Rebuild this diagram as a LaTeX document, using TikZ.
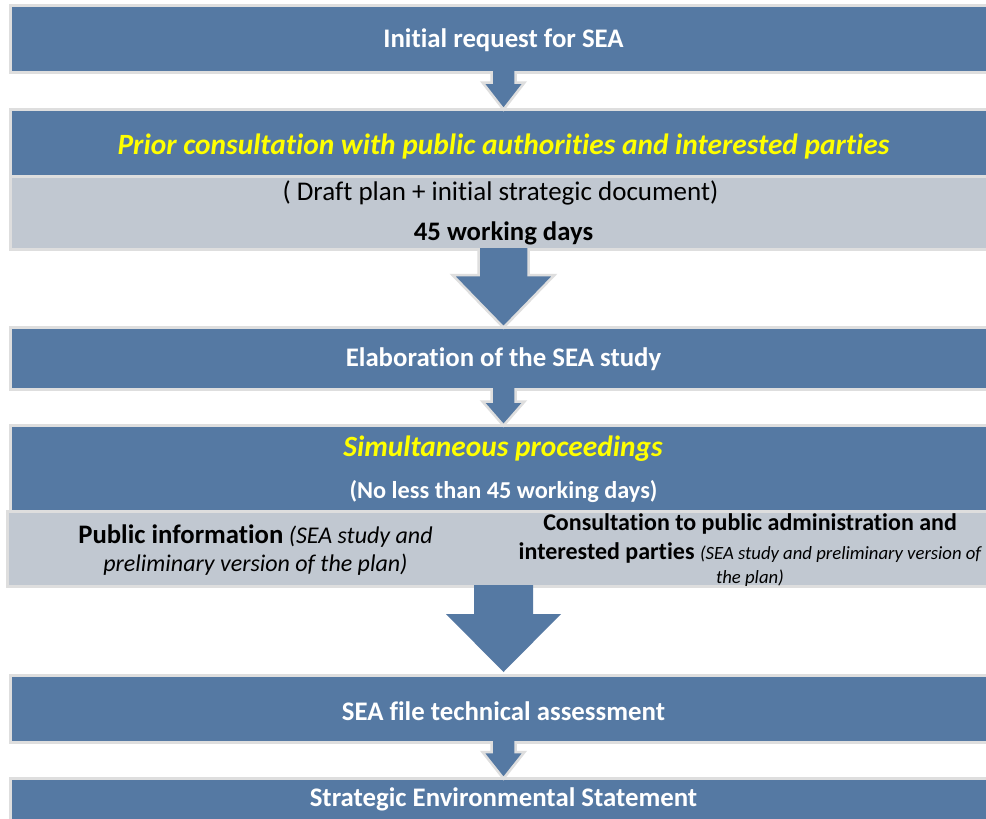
\documentclass[tikz,border=0pt]{standalone}
\usepackage{fontspec}
\setmainfont{Carlito}[Ligatures={NoCommon}]
\usetikzlibrary{calc}
\definecolor{boxblue}{HTML}{5579A3}
\definecolor{boxgray}{HTML}{C1C8D1}
\definecolor{outl}{HTML}{DEDEDE}
\definecolor{ttlyellow}{HTML}{FFFF00}
\tikzset{
  bluebox/.style={draw=outl, line width=3pt, fill=boxblue, rectangle, inner sep=0pt, outer sep=0pt, anchor=north west, minimum width=986pt},
  graybox/.style={draw=outl, line width=3pt, fill=boxgray, rectangle, inner sep=0pt, outer sep=0pt, anchor=north west, minimum width=986pt},
  whitetxt/.style={text=white, font=\fontsize{26.8}{30}\selectfont\bfseries, inner sep=0pt},
  yellowtxt/.style={text=ttlyellow, font=\fontsize{29.4}{33}\selectfont\bfseries\itshape, inner sep=0pt},
  blacktxt/.style={text=black, inner sep=0pt, align=center},
}
% #1 from node, #2 to node, #3 shaft half width, #4 head half width, #5 head length, #6 tip gap
\newcommand\blockarrow[6]{%
  \fill[boxblue] let \p1=(#1.south), \p2=(#2.north) in
    (\x2-#3pt,\y1+1.5pt) -- (\x2+#3pt,\y1+1.5pt) -- (\x2+#3pt,\y2+#5pt+#6pt) -- (\x2+#4pt,\y2+#5pt+#6pt)
    -- (\x2,\y2+#6pt) -- (\x2-#4pt,\y2+#5pt+#6pt) -- (\x2-#3pt,\y2+#5pt+#6pt) -- cycle;
}
\newcommand\blockarrowoutl[6]{%
  \blockarrow{#1}{#2}{#3}{#4}{#5}{#6}%
  \draw[outl, line width=2.5pt] let \p1=(#1.south), \p2=(#2.north) in
    (\x2-#3pt,\y1+1.5pt) -- (\x2-#3pt,\y2+#5pt+#6pt) -- (\x2-#4pt,\y2+#5pt+#6pt)
    -- (\x2,\y2+#6pt) -- (\x2+#4pt,\y2+#5pt+#6pt) -- (\x2+#3pt,\y2+#5pt+#6pt) -- (\x2+#3pt,\y1+1.5pt);
}
\begin{document}
\begin{tikzpicture}[x=1pt,y=-1pt]
\useasboundingbox (0,0) rectangle (986,819);
\clip (0,0) rectangle (986,819);
\fill[white] (0,0) rectangle (986,819);
% boxes
\node[bluebox, minimum height=67pt] (b1) at (10.5,5.5) {};
\node[bluebox, minimum height=67pt] (b2) at (10.5,109.5) {};
\node[graybox, minimum height=73pt] (b2g) at (10.5,176.5) {};
\node[bluebox, minimum height=62pt] (b3) at (10.5,327.5) {};
\node[bluebox, minimum height=86pt] (b4) at (10.5,425.5) {};
\node[graybox, minimum height=75pt, minimum width=990pt] (b4g) at (7.5,511.5) {};
\node[bluebox, minimum height=67pt] (b5) at (10.5,675.5) {};
\node[bluebox, minimum height=62pt] (b6) at (10.5,778.5) {};
% arrows
\blockarrowoutl{b1}{b2}{12}{21}{27}{0}
\blockarrowoutl{b2g}{b3}{25}{51}{52.5}{0}
\blockarrowoutl{b3}{b4}{12}{21}{24}{0}
\blockarrow{b4g}{b5}{29.5}{57.5}{58}{3.5}
\blockarrowoutl{b5}{b6}{12}{21}{26.5}{0}
% texts
\node[whitetxt] (t1) at (503.5,40) {Initial request for SEA};
\node[yellowtxt] (t2) at (503.5,146.5) {Prior consultation with public authorities and interested parties};
\node[blacktxt, font=\fontsize{27}{31}\selectfont] (t3) at (500.5,192.5) {( Draft plan + initial strategic document)};
\node[blacktxt, font=\fontsize{26.7}{30}\selectfont\bfseries] (t4) at (503.5,233.5) {45 working days};
\node[whitetxt] (t5) at (503.5,359.5) {Elaboration of the SEA study};
\node[yellowtxt] (t6) at (503,448.5) {Simultaneous proceedings};
\node[whitetxt, font=\fontsize{24.3}{28}\selectfont\bfseries] (t7) at (503.5,491.5) {(No less than 45 working days)};
\node[blacktxt, font=\fontsize{24}{28}\selectfont] (t8) at (255.5,550)
  {{\fontsize{26.7}{28}\selectfont\bfseries Public information} \textit{(SEA study and}\\\textit{preliminary version of the plan)}};
\node[blacktxt, font=\fontsize{24}{29}\selectfont] (t9) at (750,550)
  {\textbf{Consultation to public administration and}\\
   \textbf{interested parties} {\fontsize{18.7}{22}\selectfont\itshape (SEA study and preliminary version of}\\[-5pt]
   {\fontsize{18.7}{22}\selectfont\itshape the plan)}};
\node[whitetxt] (t10) at (503.5,711.5) {SEA file technical assessment};
\node[whitetxt] (t11) at (503.5,799.5) {Strategic Environmental Statement};
\end{tikzpicture}
\end{document}
